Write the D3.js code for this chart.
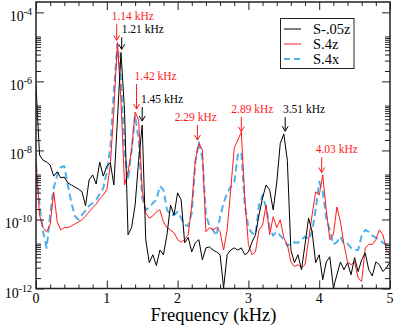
<!DOCTYPE html>
<html><head><meta charset="utf-8">
<script src="https://cdn.jsdelivr.net/npm/d3@7"></script>
<style>html,body{margin:0;padding:0;background:#fff;} svg{display:block;} text{font-family:"Liberation Serif","Times New Roman",Times,serif;}</style>
</head><body>
<svg id="c" width="395" height="327"></svg>
<script>
// ---------------- data ----------------
const freqs = [0,0.05,0.1,0.15,0.2,0.25,0.3,0.35,0.4,0.45,0.5,0.55,0.6,0.65,0.7,0.75,0.8,0.85,0.9,0.95,
1,1.05,1.1,1.15,1.2,1.25,1.3,1.35,1.4,1.45,1.5,1.55,1.6,1.65,1.7,1.75,1.8,1.85,1.9,1.95,
2,2.05,2.1,2.15,2.2,2.25,2.3,2.35,2.4,2.45,2.5,2.55,2.6,2.65,2.7,2.75,2.8,2.85,2.9,2.95,
3,3.05,3.1,3.15,3.2,3.25,3.3,3.35,3.4,3.45,3.5,3.55,3.6,3.65,3.7,3.75,3.8,3.85,3.9,3.95,
4,4.05,4.1,4.15,4.2,4.25,4.3,4.35,4.4,4.45,4.5,4.55,4.6,4.65,4.7,4.75,4.8,4.85,4.9,4.95,5];

const sNeg05z = [7.8e-7,7.4e-9,5.2e-9,4.6e-9,3.8e-9,1.8e-9,2.4e-9,1.6e-9,1.7e-9,1.15e-9,
1e-9,8.7e-10,7.6e-10,6.3e-10,2.5e-10,1.4e-9,1.95e-9,1.07e-9,4.6e-9,1.8e-9,
3.5e-9,4.4e-9,1e-9,7.6e-8,6.9e-6,1.5e-7,3.6e-11,5.8e-11,2.6e-10,5.2e-9,
5.4e-8,2.6e-11,5.6e-12,9.5e-12,4.6e-12,1.3e-11,9.5e-12,3.6e-11,2.6e-10,1.35e-10,
5.9e-10,3.7e-10,2.1e-11,3.0e-11,1.15e-11,2.1e-11,2.6e-11,6.8e-12,1.5e-11,1.6e-11,
1.3e-11,1.15e-11,9.5e-12,1.05e-12,9.5e-12,1.3e-11,1.5e-11,1.3e-11,1.5e-11,9.5e-12,
1.15e-11,2.2e-11,3.6e-11,1.35e-10,4.2e-10,1e-9,7.2e-10,1.9e-10,1.15e-9,1.6e-8,
3.0e-8,5.2e-9,1.3e-11,5.6e-12,9.5e-12,3.5e-12,1.9e-11,1.1e-10,4.4e-11,5.6e-12,
9.5e-12,1.8e-12,5.9e-12,8.3e-12,1.05e-12,2.5e-12,5.9e-12,3.5e-12,5.6e-12,2.5e-12,
7.8e-12,3.1e-12,6.8e-12,1.07e-11,3.5e-12,2.3e-12,5.9e-12,4.9e-12,3.1e-12,4.0e-12,5.9e-12];

const s4z = [5.2e-9,1.35e-10,5.8e-11,4.4e-11,6.9e-11,6.3e-10,8.5e-11,5.0e-11,5.8e-11,5.8e-11,
6.5e-11,7.4e-11,8.5e-11,9.8e-11,1.26e-10,1.66e-10,2.2e-10,2.8e-10,4.0e-10,5.1e-10,
7.2e-10,3.8e-9,1.5e-7,1.35e-5,2.9e-7,1e-9,2.4e-9,1.02e-8,1.29e-7,7.6e-8,
7.2e-10,1.55e-10,1.1e-10,1.26e-10,1.66e-10,1.9e-10,8.5e-11,5.8e-11,5.0e-11,4.1e-11,
2.6e-11,2.2e-11,2.6e-11,3.6e-11,2.6e-10,5.2e-9,1.6e-8,1.02e-8,4.4e-11,5.8e-11,
5.0e-11,5.8e-11,4.4e-11,1.3e-11,5.0e-11,7.2e-10,1.17e-8,2.0e-8,3.4e-8,3.7e-10,
1.9e-11,9.5e-12,1.15e-11,5.0e-11,6.9e-11,2.6e-10,3.6e-11,1.2e-10,5.8e-11,9.8e-11,
3.0e-11,1.9e-11,5.9e-12,4.3e-12,4.9e-12,4.0e-12,4.9e-12,2.6e-11,1.35e-10,6.3e-10,
5.1e-10,1.95e-9,1.9e-10,2.6e-11,3.6e-11,2.3e-10,8.5e-11,1.9e-11,5.9e-12,4.9e-12,
5.9e-12,2.0e-12,1.6e-12,1.5e-11,1.9e-11,1.9e-11,2.6e-11,5.0e-11,3.6e-11,1.3e-11,9.5e-12];

const s4x = [3.8e-9,2.6e-10,4.4e-11,1.5e-11,1.35e-10,8.1e-10,1.95e-9,3.3e-9,3.5e-9,1e-9,
3.0e-10,1.26e-10,9.8e-11,1.35e-10,1.8e-10,2.5e-10,3.0e-10,3.7e-10,5.5e-10,8.1e-10,
2.4e-9,1.17e-8,5.6e-7,1.18e-5,1.07e-6,1.02e-8,1.4e-9,1.02e-8,1.05e-7,2.0e-8,
4.2e-10,1.9e-10,2.2e-10,3.0e-10,3.7e-10,9.3e-10,7.2e-10,1.9e-10,1.35e-10,1.35e-10,
1.66e-10,1.1e-10,6.9e-11,6.5e-11,1.55e-10,4.4e-9,1.74e-8,6.0e-9,1.35e-10,6.5e-11,
5.0e-11,3.4e-11,1.2e-10,3.0e-10,5.9e-10,8.7e-10,1.15e-9,7.4e-9,8.9e-9,2.6e-10,
5.8e-11,4.1e-11,3.6e-11,2.6e-10,5.1e-10,2.2e-10,5.8e-11,3.4e-11,4.4e-11,3.4e-11,
2.6e-11,1.7e-11,2.1e-11,2.2e-11,2.1e-11,2.6e-11,3.2e-11,2.6e-11,4.4e-11,1.9e-10,
1.23e-9,6.3e-10,1.1e-10,5.0e-11,1.9e-11,2.2e-11,3.2e-11,1.9e-11,2.0e-11,1.5e-11,
1.3e-11,1.3e-11,3.4e-11,5.0e-11,4.4e-11,3.4e-11,3.0e-11,2.6e-11,2.1e-11,1.9e-11,1.6e-11];

const seriesNames = ["S-.05z", "S.4z", "S.4x"];
const xTickValues = [0, 1, 2, 3, 4, 5];
const yTickExponents = [-12, -10, -8, -6, -4];
const xAxisTitle = "Frequency (kHz)";

// peak annotations: label, arrow frequency, value at arrow tip
const peakLabels = ["1.14 kHz", "1.21 kHz", "1.42 kHz", "1.45 kHz", "2.29 kHz", "2.89 kHz", "3.51 kHz", "4.03 kHz"];
const peakFreqs  = [1.14, 1.21, 1.42, 1.50, 2.28, 2.90, 3.52, 4.035];
const peakTips   = [1.55e-5, 8.5e-6, 1.58e-7, 7.1e-8, 2.0e-8, 3.5e-8, 3.6e-8, 2.3e-9];
const peakSeries = [1, 0, 1, 0, 1, 1, 0, 1];

// ---------------- styling / layout ----------------
const colors = ["#000000", "#ff1a1a", "#4fb0ea"];
const widths = [1, 1, 2];
const dashes = [null, null, "7,4"];
const arrowLen = [16, 12, 25, 14, 15, 15, 14, 15];
const textDx   = [-5, 0, -2, -1.3, -22.7, -10, -2.3, -6];
const serif = "Liberation Serif, Times New Roman, Times, serif";

const pLeft = 36, pRight = 390, pTop = 2, pBottom = 288.5;

const svg = d3.select("#c");
const x = d3.scaleLinear().domain([0, 5]).range([pLeft, pRight]);
const y = d3.scaleLog().domain([1e-12, Math.pow(10, -3.7)]).range([pBottom, pTop]);

svg.append("defs").append("clipPath").attr("id", "clip")
  .append("rect").attr("x", pLeft).attr("y", pTop).attr("width", pRight - pLeft).attr("height", pBottom - pTop);

// series
const allSeries = [sNeg05z, s4z, s4x];
const line = d3.line().x((d, i) => x(freqs[i])).y(d => y(d));
const g = svg.append("g").attr("clip-path", "url(#clip)");
[2, 1, 0].forEach(k => {
  g.append("path").datum(allSeries[k])
    .attr("d", line)
    .attr("fill", "none")
    .attr("stroke", colors[k])
    .attr("stroke-width", widths[k])
    .attr("stroke-dasharray", dashes[k])
    .attr("stroke-linejoin", "round");
});

// axes (ticks inward, mirrored)
const xMinor = d3.range(0, 5.0001, 0.2).filter(v => Math.abs(v - Math.round(v)) > 1e-6);
const yMinor = [];
[-12, -10, -8, -6].forEach(e => { for (let k = 1; k <= 10; k++) yMinor.push(2 * k * Math.pow(10, e)); });
const yMajor = yTickExponents.map(e => Math.pow(10, e));

function xAxisG(gen, ty) { return svg.append("g").attr("transform", `translate(0,${ty})`).call(gen); }
function yAxisG(gen, tx) { return svg.append("g").attr("transform", `translate(${tx},0)`).call(gen); }

const tickStyle = sel => { sel.select(".domain").remove(); sel.selectAll("line").attr("stroke", "#222").attr("stroke-width", 1); sel.selectAll("text").remove(); };

xAxisG(d3.axisTop(x).tickValues(xTickValues).tickSize(8), pBottom).call(tickStyle);
xAxisG(d3.axisTop(x).tickValues(xMinor).tickSize(4), pBottom).call(tickStyle);
xAxisG(d3.axisBottom(x).tickValues(xTickValues).tickSize(8), pTop).call(tickStyle);
xAxisG(d3.axisBottom(x).tickValues(xMinor).tickSize(4), pTop).call(tickStyle);
yAxisG(d3.axisRight(y).tickValues(yMajor).tickSize(8), pLeft).call(tickStyle);
yAxisG(d3.axisRight(y).tickValues(yMinor).tickSize(5), pLeft).call(tickStyle);
yAxisG(d3.axisLeft(y).tickValues(yMajor).tickSize(8), pRight).call(tickStyle);
yAxisG(d3.axisLeft(y).tickValues(yMinor).tickSize(5), pRight).call(tickStyle);

// frame
svg.append("rect").attr("x", pLeft).attr("y", pTop).attr("width", pRight - pLeft).attr("height", pBottom - pTop)
  .attr("fill", "none").attr("stroke", "#222").attr("stroke-width", 1.5);

// x tick labels
svg.append("g").selectAll("text").data(xTickValues).join("text")
  .attr("x", d => x(d)).attr("y", 303)
  .attr("text-anchor", "middle")
  .attr("font-family", serif).attr("font-size", 14).attr("fill", "#000")
  .text(d => d);

// y tick labels
const yl = svg.append("g").selectAll("text").data(yTickExponents).join("text")
  .attr("x", 32).attr("y", d => y(Math.pow(10, d)) + 9)
  .attr("text-anchor", "end")
  .attr("font-family", serif).attr("font-size", 14).attr("fill", "#000");
yl.append("tspan").text("10");
yl.append("tspan").attr("dy", -6).attr("font-size", 10).text(d => String(d));

// x title
svg.append("text").attr("x", 213.5).attr("y", 321).attr("text-anchor", "middle")
  .attr("font-family", serif).attr("font-size", 18.5).attr("fill", "#000").text(xAxisTitle);

// annotations
const ann = svg.append("g");
peakLabels.forEach((lab, i) => {
  const c = peakSeries[i] === 1 ? colors[1] : colors[0];
  const ax = x(peakFreqs[i]);
  const tipY = y(peakTips[i]);
  const topY = tipY - arrowLen[i];
  ann.append("line").attr("x1", ax).attr("x2", ax).attr("y1", topY).attr("y2", tipY)
    .attr("stroke", c).attr("stroke-width", 1);
  ann.append("path").attr("d", `M${ax - 3},${tipY - 5}L${ax},${tipY}L${ax + 3},${tipY - 5}`)
    .attr("fill", "none").attr("stroke", c).attr("stroke-width", 1);
  ann.append("text").attr("x", ax + textDx[i]).attr("y", topY - 4)
    .attr("font-family", serif).attr("font-size", 11.5).attr("fill", c).text(lab);
});

// legend
const lg = svg.append("g");
lg.append("rect").attr("x", 280.5).attr("y", 18.5).attr("width", 73.5).attr("height", 50)
  .attr("fill", "#fff").attr("stroke", "#222").attr("stroke-width", 1);
const legY = [29, 44, 59];
seriesNames.forEach((n, k) => {
  lg.append("line").attr("x1", 284).attr("x2", 301).attr("y1", legY[k]).attr("y2", legY[k])
    .attr("stroke", colors[k]).attr("stroke-width", widths[k]).attr("stroke-dasharray", dashes[k] ? "6,4" : null);
  lg.append("text").attr("x", 313).attr("y", legY[k] + 5)
    .attr("font-family", serif).attr("font-size", 14.5).attr("fill", "#000").text(n);
});
</script>
</body></html>
